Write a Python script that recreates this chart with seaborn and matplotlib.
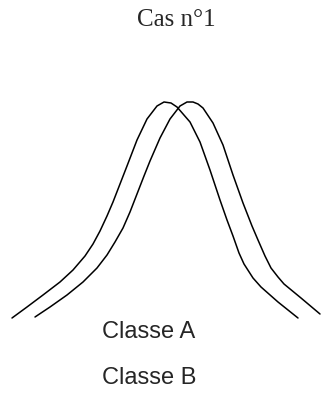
import matplotlib
matplotlib.use("Agg")
import matplotlib.pyplot as plt
import seaborn as sns

# points (x position, height above baseline)
x_a = [12, 27, 43, 60, 73, 85, 93, 100, 107, 113, 120, 127, 137, 147, 157, 164,
       171, 177, 190, 200, 210, 220, 227, 233, 239, 244, 253, 261, 278, 298]
h_a = [12, 23, 35, 48, 60, 74, 86, 99, 114, 128, 146, 164, 190, 211, 224, 228,
       227, 223, 208, 188, 160, 130, 110, 94, 77, 66, 52, 43, 28, 12]

x_b = [35, 50, 67, 83, 97, 107, 115, 123, 130, 137, 144, 150, 160, 170, 180, 187,
       193, 198, 203, 213, 223, 233, 243, 252, 258, 265, 271, 278, 284, 301, 320]
h_b = [13, 23, 35, 48, 62, 75, 88, 102, 118, 136, 154, 169, 192, 211, 224, 228,
       228, 226, 222, 207, 185, 155, 127, 104, 90, 74, 62, 53, 46, 32, 16]

title = "Cas n°1"
labels = ["Classe A", "Classe B"]

sns.set_style("white")

fig = plt.figure(figsize=(3.21, 3.94), dpi=100)
ax = fig.add_axes([0, 0, 1, 1])

sns.lineplot(x=x_a, y=h_a, ax=ax, color="black", lw=1.1, sort=False)
sns.lineplot(x=x_b, y=h_b, ax=ax, color="black", lw=1.1, sort=False)

ax.set_xlim(0, 321)
ax.set_ylim(-64, 330)
ax.axis("off")

fig.text(0.548, 0.949, title, ha="center", va="center",
         fontsize=18, family="Liberation Serif")
fig.text(0.318, 0.157, labels[0], ha="left", va="center",
         fontsize=17, family="Liberation Sans")
fig.text(0.318, 0.041, labels[1], ha="left", va="center",
         fontsize=17, family="Liberation Sans")

fig.savefig("out.png", dpi=100)
plt.close(fig)
